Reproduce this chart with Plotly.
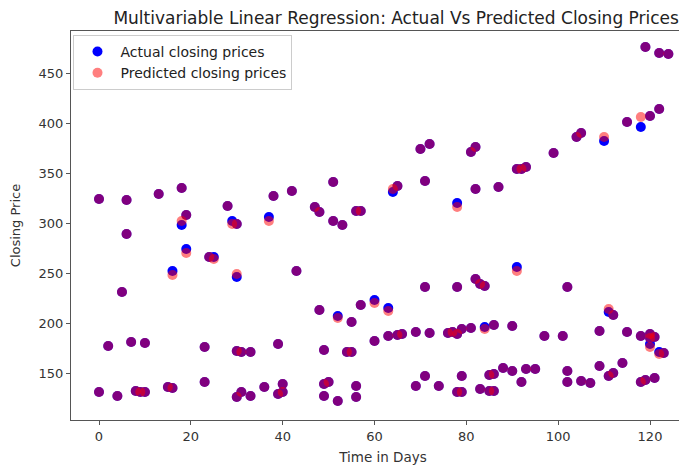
import plotly.graph_objs as go

# Time in days (test set points)
days = ([0, 0, 2, 4, 5, 6, 6, 7, 8, 9, 10, 10, 13, 15, 16, 16, 18, 18, 19, 19]
        + [23, 23, 24, 25, 28, 29, 30, 30, 30, 30, 31, 31, 33, 33, 36, 37, 38, 39, 39, 40, 40]
        + [42, 43, 47, 48, 48, 49, 49, 49, 50, 51, 51, 52, 52, 53, 54, 55, 55, 56, 56, 56, 57, 57]
        + [60, 60, 63, 63, 64, 65, 65, 66, 69, 69, 70, 71, 71, 71, 72, 72, 74, 76, 77, 78, 78, 78, 78, 79, 79, 79]
        + [81, 81, 82, 82, 82, 83, 83, 84, 84, 85, 85, 86, 86, 86, 87, 88, 90, 90, 91, 91, 92, 92, 93, 93, 95, 97, 99]
        + [101, 102, 102, 102, 104, 105, 105, 107, 109, 109, 110, 111, 111, 112, 112, 114, 115, 115, 118, 118, 118,
           119, 119, 120, 120, 120, 120, 121, 121, 122, 122, 122, 123, 124])

actual = ([324, 131, 177, 127, 231, 323, 289, 181, 132, 131, 131, 180, 329, 136, 135, 252, 335, 298, 308, 274]
          + [176, 141, 266, 266, 317, 302, 299, 246, 172, 126, 131, 171, 171, 127, 136, 306, 327, 179, 129, 139, 131]
          + [332, 252, 316, 311, 213, 173, 139, 127, 141, 341, 302, 207, 122, 298, 171, 171, 201, 137, 126, 312, 312, 218]
          + [223, 182, 215, 187, 331, 337, 188, 189, 191, 137, 374, 342, 236, 147, 379, 190, 137, 190, 191, 320, 236, 189, 131, 194, 131, 147]
          + [371, 195, 376, 334, 244, 239, 134, 237, 196, 148, 132, 198, 149, 132, 336, 155, 152, 197, 256, 354, 141, 354, 356, 154, 154, 187, 370]
          + [187, 236, 152, 141, 386, 390, 142, 140, 192, 157, 382, 211, 147, 208, 150, 160, 401, 191, 396, 187, 141,
             476, 143, 407, 189, 179, 185, 186, 145, 414, 470, 171, 170, 469])

predicted = ([324, 131, 177, 127, 231, 323, 289, 181, 132, 131, 131, 180, 329, 136, 135, 248, 335, 302, 308, 270]
             + [176, 141, 266, 264, 317, 299, 299, 249, 172, 126, 131, 171, 171, 127, 136, 302, 327, 179, 129, 139, 131]
             + [332, 252, 316, 311, 213, 173, 139, 127, 141, 341, 302, 205, 122, 298, 171, 171, 201, 137, 126, 312, 312, 218]
             + [220, 182, 212, 187, 334, 337, 188, 189, 191, 137, 374, 342, 236, 147, 379, 190, 137, 190, 191, 316, 236, 189, 131, 194, 131, 147]
             + [371, 195, 376, 334, 244, 239, 134, 237, 194, 148, 132, 198, 149, 132, 336, 155, 152, 197, 252, 354, 141, 354, 356, 154, 154, 187, 370]
             + [187, 236, 152, 141, 386, 390, 142, 140, 192, 157, 386, 214, 147, 208, 150, 160, 401, 191, 406, 187, 141,
                476, 143, 407, 189, 176, 185, 186, 145, 414, 470, 169, 170, 469])

assert len(days) == len(actual) == len(predicted)

font = dict(family='DejaVu Sans', color='#333', size=13)

act = go.Scatter(x=days, y=actual, mode='markers', name='Actual closing prices',
                 marker=dict(color='blue', size=10, line=dict(width=0)))
pred = go.Scatter(x=days, y=predicted, mode='markers', name='Predicted closing prices',
                  marker=dict(color='red', size=10, opacity=0.5, line=dict(width=0)))

# the page body has an 8px margin, so the margins below are shifted by that
layout = go.Layout(
    width=687, height=465,
    margin=dict(l=63, r=0, t=23, b=53),
    paper_bgcolor='white', plot_bgcolor='white',
    font=font,
    title=dict(text='Multivariable Linear Regression: Actual Vs Predicted Closing Prices',
               x=0.565, xanchor='center', y=0.979, yanchor='middle',
               font=dict(family='DejaVu Sans', size=17, color='#222')),
    xaxis=dict(title=dict(text='Time in Days', standoff=9, font=dict(size=13.5)),
               range=[-6.1, 129.8], tickvals=[0, 20, 40, 60, 80, 100, 120], automargin=False,
               showgrid=False, zeroline=False, showline=True, mirror=True,
               linecolor='#555', linewidth=1, ticks='outside', ticklen=4, tickcolor='#555'),
    yaxis=dict(title=dict(text='Closing Price', standoff=15, font=dict(size=13)),
               range=[103, 492], tickvals=[150, 200, 250, 300, 350, 400, 450], automargin=False,
               showgrid=False, zeroline=False, showline=True, mirror=False,
               linecolor='#555', linewidth=1, ticks='outside', ticklen=4, tickcolor='#555'),
    legend=dict(x=0.004, y=0.99, xanchor='left', yanchor='top',
                bgcolor='rgba(255,255,255,0.8)', bordercolor='#ccc', borderwidth=1,
                font=dict(size=14, color='#222'), itemwidth=36, tracegroupgap=2),
)

fig = go.Figure(data=[act, pred], layout=layout)
fig.write_html("out.html")
